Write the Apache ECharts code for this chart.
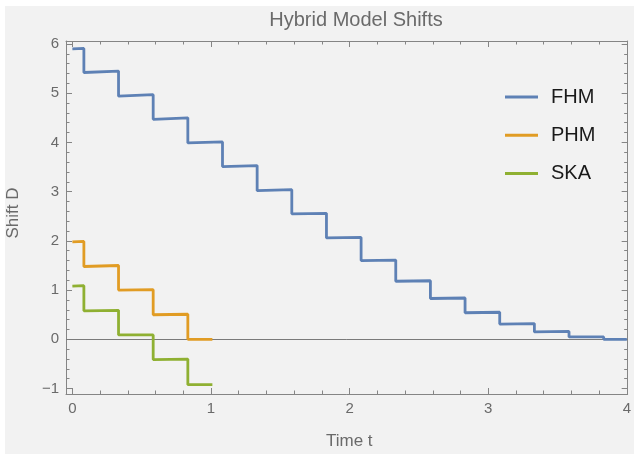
<!DOCTYPE html>
<html>
<head>
<meta charset="utf-8">
<script src="https://cdn.jsdelivr.net/npm/echarts@6/dist/echarts.min.js"></script>
<style>
html,body{margin:0;padding:0;background:#ffffff;}
#chart{width:634px;height:455px;}
</style>
</head>
<body>
<div id="chart"></div>
<script>
// ---- data ----
const seriesNames = ["FHM", "PHM", "SKA"];
// step boundaries (time t)
const fhmTimes = [0, 0.083, 0.333, 0.583, 0.833, 1.083, 1.333, 1.583, 1.833, 2.083, 2.333, 2.583, 2.833, 3.083, 3.333, 3.583, 3.833, 4.0];
const fhmStart = [5.90, 5.42, 4.94, 4.47, 3.99, 3.51, 3.02, 2.55, 2.06, 1.60, 1.18, 0.83, 0.54, 0.31, 0.15, 0.05, 0.00];
const fhmEnd   = [5.91, 5.45, 4.97, 4.50, 4.01, 3.53, 3.04, 2.56, 2.07, 1.61, 1.19, 0.84, 0.55, 0.32, 0.16, 0.05, 0.00];
const phmTimes = [0, 0.083, 0.333, 0.583, 0.833, 1.01];
const phmStart = [1.98, 1.48, 1.00, 0.50, 0.00];
const phmEnd   = [1.99, 1.50, 1.01, 0.51, 0.00];
const skaTimes = [0, 0.083, 0.333, 0.583, 0.833, 1.01];
const skaStart = [1.08, 0.58, 0.09, -0.41, -0.92];
const skaEnd   = [1.09, 0.59, 0.09, -0.40, -0.92];
const xMajorTicks = [0, 1, 2, 3, 4];
const xMinorTicks = [0.2,0.4,0.6,0.8,1.2,1.4,1.6,1.8,2.2,2.4,2.6,2.8,3.2,3.4,3.6,3.8];
const yMajorTicks = [-1, 0, 1, 2, 3, 4, 5, 6];
const yMinorTicks = [-0.8,-0.6,-0.4,-0.2,0.2,0.4,0.6,0.8,1.2,1.4,1.6,1.8,2.2,2.4,2.6,2.8,3.2,3.4,3.6,3.8,4.2,4.4,4.6,4.8,5.2,5.4,5.6,5.8];
const colors = ["#5E81B5", "#E19C24", "#8FB032"];

function stepPoints(times, starts, ends) {
  const pts = [];
  for (let i = 0; i < starts.length; i++) {
    pts.push([times[i], starts[i]]);
    pts.push([times[i + 1], ends[i]]);
  }
  return pts;
}

const FONT = "Liberation Sans, Arial, sans-serif";
const AX = "#858585";
const LBL = "#6a6a6a";
const xMin = -0.046, xMax = 4.006, yMin = -1.11, yMax = 6.06;

function xAxisDef(pos, ticks, len, showLabel, showLine) {
  return {
    type: "value", position: pos, min: xMin, max: xMax,
    axisLine: { show: showLine, onZero: false, lineStyle: { color: AX, width: 1 } },
    axisTick: { show: true, inside: true, length: len, customValues: ticks, lineStyle: { color: AX, width: 1 } },
    axisLabel: { show: showLabel, customValues: ticks, color: LBL, fontSize: 15, fontFamily: FONT, margin: 7 },
    splitLine: { show: false }
  };
}
function yAxisDef(pos, ticks, len, showLabel, showLine) {
  return {
    type: "value", position: pos, min: yMin, max: yMax,
    axisLine: { show: showLine, onZero: false, lineStyle: { color: AX, width: 1 } },
    axisTick: { show: true, inside: true, length: len, customValues: ticks, lineStyle: { color: AX, width: 1 } },
    axisLabel: { show: showLabel, customValues: ticks, color: LBL, fontSize: 15, fontFamily: FONT, margin: 7,
      formatter: v => (v < 0 ? "\u2212" + Math.abs(v) : String(v)) },
    splitLine: { show: false }
  };
}

const chart = echarts.init(document.getElementById("chart"), null, { renderer: "canvas" });
const option = {
  animation: false,
  backgroundColor: "#ffffff",
  graphic: [
    { type: "rect", z: -10, shape: { x: 5, y: 6, width: 629, height: 448 }, style: { fill: "#f2f2f2" }, silent: true },
    { type: "text", left: 326, top: 433, style: { text: "Time t", fill: LBL, font: "17px " + FONT } },
    { type: "text", x: 22, y: 213, rotation: Math.PI / 2, style: { text: "Shift D", fill: LBL, font: "17px " + FONT, textAlign: "center", textVerticalAlign: "bottom" } }
  ],
  title: {
    text: "Hybrid Model Shifts", left: 351, top: 5, textAlign: "center",
    textStyle: { color: LBL, fontSize: 20, fontWeight: "normal", fontFamily: FONT }
  },
  legend: {
    orient: "vertical", left: 500, top: 82,
    icon: "rect", itemWidth: 33, itemHeight: 3, itemGap: 18.3,
    data: seriesNames,
    textStyle: { color: "#1a1a1a", fontSize: 20, fontFamily: FONT, lineHeight: 20, padding: [0, 0, 0, 8] }
  },
  grid: { left: 66, right: 3, top: 41, bottom: 61, containLabel: false },
  xAxis: [
    xAxisDef("bottom", xMajorTicks, 6, true, true),
    xAxisDef("bottom", xMinorTicks, 3.5, false, false),
    xAxisDef("top", xMajorTicks, 6, false, true),
    xAxisDef("top", xMinorTicks, 3.5, false, false)
  ],
  yAxis: [
    yAxisDef("left", yMajorTicks, 6, true, true),
    yAxisDef("left", yMinorTicks, 3.5, false, false),
    yAxisDef("right", yMajorTicks, 6, false, true),
    yAxisDef("right", yMinorTicks, 3.5, false, false)
  ],
  series: [
    {
      name: seriesNames[0], type: "line", data: stepPoints(fhmTimes, fhmStart, fhmEnd),
      showSymbol: false, symbol: "none", color: colors[0], lineStyle: { width: 2.8, color: colors[0] }, z: 3,
      markLine: { silent: true, symbol: "none", label: { show: false }, data: [{ yAxis: 0 }],
        lineStyle: { color: "#7a7a7a", width: 1, type: "solid" }, z: 1 }
    },
    {
      name: seriesNames[1], type: "line", data: stepPoints(phmTimes, phmStart, phmEnd),
      showSymbol: false, symbol: "none", color: colors[1], lineStyle: { width: 2.8, color: colors[1] }, z: 3
    },
    {
      name: seriesNames[2], type: "line", data: stepPoints(skaTimes, skaStart, skaEnd),
      showSymbol: false, symbol: "none", color: colors[2], lineStyle: { width: 2.8, color: colors[2] }, z: 3
    }
  ]
};
chart.setOption(option);
</script>
</body>
</html>
